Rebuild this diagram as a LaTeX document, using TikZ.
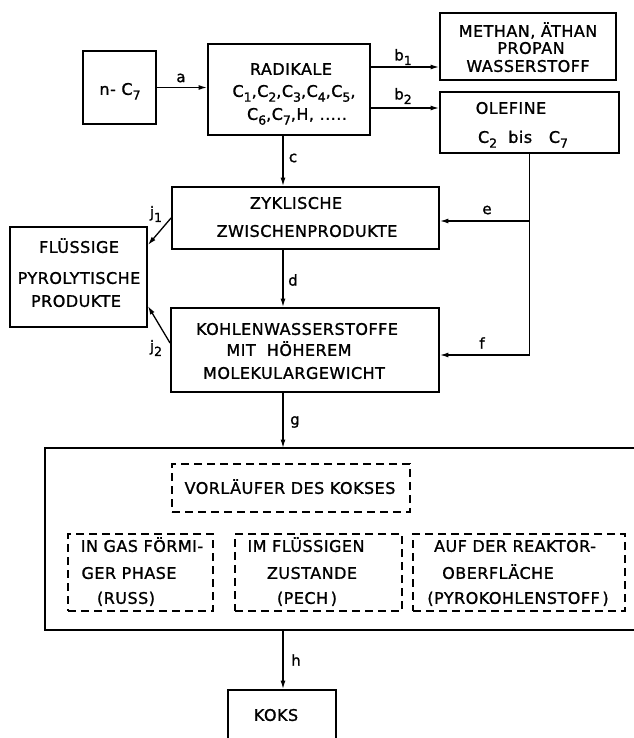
\documentclass[tikz,border=0pt]{standalone}
\usepackage{fontspec}
\setmainfont{DejaVu Sans}[LetterSpace=3,FakeBold=1.2]
\usetikzlibrary{arrows.meta}
\newcommand\sbs[1]{\raisebox{-0.55ex}{\fontsize{12.5}{12.5}\selectfont #1}}
\begin{document}
\begin{tikzpicture}[x=1pt,y=-1pt,
 box/.style={draw,line width=1.9pt,inner sep=0pt},
 dbox/.style={draw,line width=1.7pt,dash pattern=on 8pt off 5pt,inner sep=0pt},
 arr/.style={line width=1.3pt,-{Latex[length=8.5pt,width=5pt]}},
 ln/.style={line width=1.3pt},
 txt/.style={font=\fontsize{16}{16}\selectfont,inner sep=0pt,text height=11.7pt,text depth=0pt},
 lbl/.style={font=\fontsize{15}{15}\selectfont,inner sep=0pt}]
\useasboundingbox (0,0) rectangle (633,738);
% boxes
\node[box,minimum width=73pt,minimum height=73pt] (nc7) at (119.5,87.5) {};
\node[box,minimum width=162pt,minimum height=91pt] (rad) at (289,89.5) {};
\node[box,minimum width=176pt,minimum height=67pt] (meth) at (528,46.5) {};
\node[box,minimum width=179pt,minimum height=61pt] (ole) at (529.5,122.5) {};
\node[box,minimum width=267pt,minimum height=62pt] (zyk) at (305.5,218) {};
\node[box,minimum width=268pt,minimum height=84pt] (kohl) at (305,350) {};
\node[box,minimum width=137pt,minimum height=100pt] (flu) at (78.5,277) {};
\draw[line width=1.9pt] (640,448) -| (45,630) -- (640,630);
\coordinate (gt) at (283,448);
\coordinate (ht) at (283,630);
\node[dbox,minimum width=238pt,minimum height=48pt] (vor) at (291,488) {};
\node[dbox,minimum width=145pt,minimum height=77pt] (gas) at (140.5,572.5) {};
\node[dbox,minimum width=167pt,minimum height=77pt] (liq) at (318.5,572.5) {};
\node[dbox,minimum width=212pt,minimum height=77pt] (rea) at (519,572.5) {};
\node[box,minimum width=108pt,minimum height=54pt] (koks) at (282,717) {};
% texts
\node[txt] (t1) at (120,89) {n-~C\sbs{7}};
\node[txt] (t2) at (291,69) {RADIKALE};
\node[txt] (t3) at (294,91) {C\sbs{1},C\sbs{2},C\sbs{3},C\sbs{4},C\sbs{5},};
\node[txt] (t4) at (297,114) {C\sbs{6},C\sbs{7},H, .....};
\node[txt] (t5) at (528,31) {METHAN, ÄTHAN};
\node[txt] (t6) at (531,48) {PROPAN};
\node[txt] (t7) at (528,66) {WASSERSTOFF};
\node[txt] (t8) at (511,108) {OLEFINE};
\node[txt] (t9) at (523,137) {C\sbs{2}~~bis~~~C\sbs{7}};
\node[txt] (t10) at (296,203) {ZYKLISCHE};
\node[txt] (t11) at (307,231) {ZWISCHENPRODUKTE};
\node[txt] (t12) at (297,329) {KOHLENWASSERSTOFFE};
\node[txt] (t13) at (289,350) {MIT~~HÖHEREM};
\node[txt] (t14) at (294,373) {MOLEKULARGEWICHT};
\node[txt] (t15) at (79,247) {FLÜSSIGE};
\node[txt] (t16) at (79,278) {PYROLYTISCHE};
\node[txt] (t17) at (76,301) {PRODUKTE};
\node[txt] (t18) at (290,488) {VORLÄUFER DES KOKSES};
\node[txt] (t19) at (142,546) {IN GAS FÖRMI-};
\node[txt] (t20) at (129,573) {GER PHASE};
\node[txt] (t21) at (126,598) {(RUSS)};
\node[txt] (t22) at (306,546) {IM FLÜSSIGEN};
\node[txt] (t23) at (312,573) {ZUSTANDE};
\node[txt] (t24) at (307,598) {(PECH\,)};
\node[txt] (t25) at (515,546) {AUF DER REAKTOR-};
\node[txt] (t26) at (498,573) {OBERFLÄCHE};
\node[txt] (t27) at (518,598) {(PYROKOHLENSTOFF\,)};
\node[txt] (t28) at (276,715) {KOKS};
% helper coordinates
\coordinate (yb1) at (0,67);
\coordinate (yb2) at (0,108);
\coordinate (xc) at (283,0);
\coordinate (ye) at (0,221);
\coordinate (yf) at (0,355);
\coordinate (yj1) at (0,245);
\coordinate (yj2s) at (0,343);
\coordinate (yj2e) at (0,306);
% connectors
\draw[arr] (nc7.east) -- (rad.west |- nc7.east);
\draw[arr] (rad.east |- yb1) -- (meth.west |- yb1);
\draw[arr] (rad.east |- yb2) -- (ole.west |- yb2);
\draw[arr] (rad.south -| xc) -- (zyk.north -| xc);
\draw[arr] (zyk.south -| xc) -- (kohl.north -| xc);
\draw[arr] (kohl.south -| xc) -- (gt);
\draw[arr] (ht) -- (koks.north -| ht);
\draw[ln] (ole.south) -- (ole.south |- yf);
\draw[arr] (ole.south |- ye) -- (zyk.east |- ye);
\draw[arr] (ole.south |- yf) -- (kohl.east |- yf);
\draw[arr] (zyk.west) -- (flu.east |- yj1);
\draw[arr] (kohl.west |- yj2s) -- (flu.east |- yj2e);
% labels
\node[lbl] (la) at (181,78) {a};
\node[lbl] (lb1) at (403,57) {b\sbs{1}};
\node[lbl] (lb2) at (403,96) {b\sbs{2}};
\node[lbl] (lc) at (293,158) {c};
\node[lbl] (ld) at (293,280) {d};
\node[lbl] (le) at (487,210) {e};
\node[lbl] (lf) at (482,343) {f};
\node[lbl] (lg) at (295,422) {g};
\node[lbl] (lh) at (296,660) {h};
\node[lbl] (lj1) at (156,214) {j\sbs{1}};
\node[lbl] (lj2) at (156,348) {j\sbs{2}};
\end{tikzpicture}
\end{document}
